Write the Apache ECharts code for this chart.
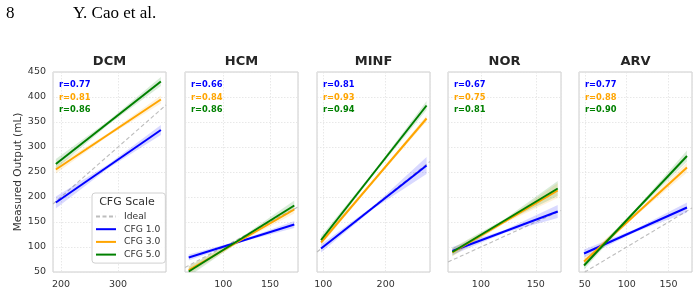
<!DOCTYPE html>
<html>
<head>
<meta charset="utf-8">
<script src="https://cdn.jsdelivr.net/npm/echarts@6/dist/echarts.min.js"></script>
<style>html,body{margin:0;padding:0;background:#fff}#c{width:700px;height:295px}</style>
</head>
<body>
<div id="c"></div>
<script>
// ---- data ----
const panels = ['DCM', 'HCM', 'MINF', 'NOR', 'ARV'];
const xMin = [186, 59, 90, 70, 43];
const xMax = [384, 180, 271, 173, 178];
const xSplit = [2, 2, 2, 2, 3];
const xStart = [191, 63, 96.5, 74, 49];
const xMid = [283, 119.5, 181, 122, 110.5];
const xEnd = [375, 176, 265.5, 170, 172];
const cfg1Start = [189, 79, 97, 92, 87];
const cfg1End = [334, 145, 263, 171, 179];
const cfg3Start = [255, 54, 109, 89, 71];
const cfg3End = [395, 175, 357, 213, 259];
const cfg5Start = [266, 51, 114, 90, 63];
const cfg5End = [431, 183, 383, 217, 282];
// confidence band half-widths at start / middle / end
const cfg1Band = [[12, 4, 10], [6, 2, 7], [8, 3, 17], [8, 3, 13], [8, 3, 10]];
const cfg3Band = [[8, 3, 8], [8, 3, 8], [6, 2, 6], [8, 3, 15], [8, 3, 10]];
const cfg5Band = [[10, 4, 9], [10, 3, 10], [8, 3, 9], [8, 3, 15], [8, 3, 11]];
const r1 = ['0.77', '0.66', '0.81', '0.67', '0.77'];
const r3 = ['0.81', '0.84', '0.93', '0.75', '0.88'];
const r5 = ['0.86', '0.86', '0.94', '0.81', '0.90'];
const yTicks = [50, 450, 50]; // min, max, step
const seriesNames = ['CFG 1.0', 'CFG 3.0', 'CFG 5.0'];
const seriesColors = ['#0000ff', '#ffa500', '#008000'];

// ---- layout ----
const gridLeft = [53, 185, 317, 448, 579];
const gridWidth = 113;
const gridTop = 72, gridHeight = 200;
const font = 'DejaVu Sans';

const chart = echarts.init(document.getElementById('c'), null, {renderer: 'canvas'});

const grids = [], xAxes = [], yAxes = [], series = [], graphics = [];
const starts = [cfg1Start, cfg3Start, cfg5Start];
const ends = [cfg1End, cfg3End, cfg5End];
const bands = [cfg1Band, cfg3Band, cfg5Band];
const rs = [r1, r3, r5];

panels.forEach((p, i) => {
  grids.push({left: gridLeft[i], top: gridTop, width: gridWidth, height: gridHeight,
    show: true, borderColor: '#cccccc', borderWidth: 1, backgroundColor: '#fff'});
  xAxes.push({type: 'value', gridIndex: i, min: xMin[i], max: xMax[i], splitNumber: xSplit[i],
    axisLine: {show: false}, axisTick: {show: false},
    axisLabel: {fontFamily: font, fontSize: 9.5, color: '#333', margin: 8, showMinLabel: false, showMaxLabel: false},
    splitLine: {show: true, lineStyle: {color: '#e2e2e2', type: [1.5, 1.5], width: 0.8}}});
  yAxes.push({type: 'value', gridIndex: i, min: yTicks[0], max: yTicks[1], interval: yTicks[2],
    axisLine: {show: false}, axisTick: {show: false},
    axisLabel: {show: i === 0, fontFamily: font, fontSize: 9.5, color: '#333', margin: 7},
    name: i === 0 ? 'Measured Output (mL)' : '', nameLocation: 'middle', nameGap: 29, nameRotate: 90,
    nameTextStyle: {fontFamily: font, fontSize: 10.5, color: '#333'},
    splitLine: {show: true, lineStyle: {color: '#e2e2e2', type: [1.5, 1.5], width: 0.8}}});

  // ideal line
  series.push({name: 'Ideal', type: 'line', xAxisIndex: i, yAxisIndex: i, symbol: 'none', silent: true,
    lineStyle: {color: '#bdbdbd', width: 1.1, type: [4, 2.5]}, itemStyle: {color: '#bdbdbd'}, z: 2,
    data: [[xMin[i], xMin[i]], [xMax[i], xMax[i]]]});

  for (let s = 0; s < 3; s++) {
    const x0 = xStart[i], xm = xMid[i], x1 = xEnd[i];
    const y0 = starts[s][i], y1 = ends[s][i];
    const ym = (y0 + y1) / 2;
    const b = bands[s][i];
    const pts = [[x0, y0, b[0]], [xm, ym, b[1]], [x1, y1, b[2]]];
    series.push({type: 'custom', xAxisIndex: i, yAxisIndex: i, silent: true, clip: true, z: 3,
      data: [[x0, y0]],
      renderItem: (params, api) => {
        const upper = pts.map(q => api.coord([q[0], q[1] + q[2]]));
        const lower = pts.slice().reverse().map(q => api.coord([q[0], q[1] - q[2]]));
        return {type: 'polygon', shape: {points: upper.concat(lower)},
          style: {fill: seriesColors[s], opacity: 0.15}};
      }});
    series.push({name: seriesNames[s], type: 'line', xAxisIndex: i, yAxisIndex: i, symbol: 'none', silent: true,
      lineStyle: {color: seriesColors[s], width: 2}, itemStyle: {color: seriesColors[s]}, z: 4,
      data: [[x0, y0], [x1, y1]]});
  }

  // panel title
  graphics.push({type: 'text', x: gridLeft[i] + gridWidth / 2, y: 62,
    style: {text: p, font: 'bold 13px "DejaVu Sans"', fill: '#262626',
      textAlign: 'center', textVerticalAlign: 'middle', align: 'center', verticalAlign: 'middle'}});
  // r labels
  for (let s = 0; s < 3; s++) {
    graphics.push({type: 'text', x: gridLeft[i] + 6, y: 85 + s * 12.5, z: 10,
      style: {text: 'r=' + rs[s][i], font: 'bold 8.3px "DejaVu Sans"', fill: seriesColors[s],
        textAlign: 'left', textVerticalAlign: 'middle', align: 'left', verticalAlign: 'middle'}});
  }
});

// header
graphics.push({type: 'text', x: 6, y: 14,
  style: {text: '8', font: '17px "Liberation Serif"', fill: '#000',
    textAlign: 'left', textVerticalAlign: 'middle', align: 'left', verticalAlign: 'middle'}});
graphics.push({type: 'text', x: 73, y: 14,
  style: {text: 'Y. Cao et al.', font: '17px "Liberation Serif"', fill: '#000',
    textAlign: 'left', textVerticalAlign: 'middle', align: 'left', verticalAlign: 'middle'}});
// legend title
graphics.push({type: 'text', x: 127, y: 202, z: 100,
  style: {text: 'CFG Scale', font: '11px "DejaVu Sans"', fill: '#333',
    textAlign: 'center', textVerticalAlign: 'middle', align: 'center', verticalAlign: 'middle'}});

chart.setOption({
  animation: false,
  grid: grids,
  xAxis: xAxes,
  yAxis: yAxes,
  legend: {orient: 'vertical', left: 92, top: 193, padding: [19, 5, 4, 3], itemGap: 3.7,
    itemWidth: 20, itemHeight: 10, borderColor: '#d0d0d0', borderWidth: 1, borderRadius: 3,
    backgroundColor: 'rgba(255,255,255,0.85)', selectedMode: false,
    itemStyle: {opacity: 0}, 
    textStyle: {fontFamily: font, fontSize: 9.2, color: '#333', padding: [0, 0, 0, 3]},
    data: ['Ideal'].concat(seriesNames)},
  graphic: graphics,
  series: series
});
</script>
</body>
</html>
